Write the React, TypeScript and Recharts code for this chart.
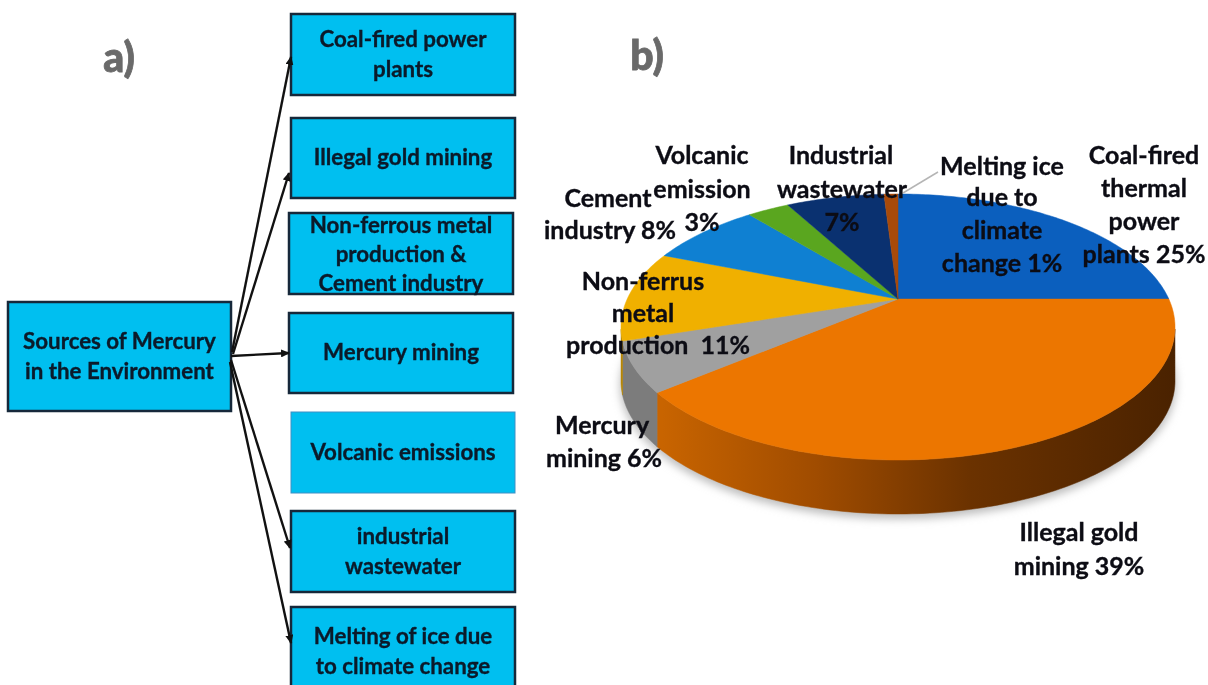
import { PieChart, Pie } from 'recharts'

const sliceNames = [
  'Coal-fired thermal power plants',
  'Illegal gold mining',
  'Mercury mining',
  'Non-ferrus metal production',
  'Cement industry',
  'Volcanic emission',
  'Industrial wastewater',
  'Melting ice due to climate change',
]
const sliceValues = [25, 39, 6, 11, 8, 3, 7, 1]
const sliceColors = ['#0b5fbe', '#ec7600', '#a0a0a0', '#f0b000', '#0f80d2', '#5aa61f', '#0a3170', '#a84a0a']
const wallColors = ['#07356b', 'url(#goldWall)', '#7c7c7c', '#b58400', '#0a5a96', '#3f7a14', '#061d44', '#6d3005']

const pieData = sliceNames.map((name, i) => ({
  name,
  value: sliceValues[i],
  fill: sliceColors[i],
  wall: wallColors[i],
}))

const boxes = [
  { lines: ['Coal-fired power', 'plants'], x: 291, y: 14, w: 224, h: 81 },
  { lines: ['Illegal gold mining'], x: 291, y: 118, w: 224, h: 80 },
  { lines: ['Non-ferrous metal', 'production &', 'Cement industry'], x: 289, y: 213, w: 224, h: 81, tight: true },
  { lines: ['Mercury mining'], x: 289, y: 313, w: 224, h: 80 },
  { lines: ['Volcanic emissions'], x: 291, y: 412, w: 224, h: 81, light: true },
  { lines: ['industrial', 'wastewater'], x: 291, y: 511, w: 224, h: 81 },
  { lines: ['Melting of ice due', 'to climate change'], x: 291, y: 607, w: 224, h: 90 },
  { lines: ['Sources of Mercury', 'in the Environment'], x: 8, y: 302, w: 223, h: 109 },
]

const arrows = [
  [232, 352, 291, 57],
  [233, 354, 289, 173],
  [231, 356, 289, 353],
  [231, 360, 290, 548],
  [230, 362, 291, 643],
]

// [text, centre x, baseline y]
const pieLabels: [string, number, number][] = [
  ['Coal-fired', 1144, 164],
  ['thermal', 1144, 197],
  ['power', 1144, 230],
  ['plants 25%', 1144, 263],
  ['Melting ice', 1002, 175],
  ['due to', 1002, 206],
  ['climate', 1002, 239],
  ['change 1%', 1002, 272],
  ['Industrial', 841, 164],
  ['wastewater', 842, 198],
  ['7%', 842, 231],
  ['Volcanic', 702, 164],
  ['emission', 702, 198],
  ['3%', 702, 231],
  ['Cement', 608, 207],
  ['industry 8%', 610, 239],
  ['Non-ferrus', 643, 290],
  ['metal', 643, 322],
  ['production  11%', 658, 354],
  ['Mercury', 602, 434],
  ['mining 6%', 604, 467],
  ['Illegal gold', 1079, 541],
  ['mining 39%', 1079, 575],
]

const SQUASH = 133 / 277
const TILT = 0.21
const DEPTH = 54
const FONT = 'Lato, "Open Sans", sans-serif'

// tilted disc: angle on the pie to a point on screen, centre shifted towards the back
function project(cx: number, cy: number, r: number, angle: number, radius = 1) {
  const rad = (angle * Math.PI) / 180
  const px = radius * Math.cos(rad)
  const pz = radius * Math.sin(rad)
  const d = 1 + TILT * pz
  return {
    x: cx + (r * px * Math.sqrt(1 - TILT * TILT)) / d,
    y: cy - (r * SQUASH * (pz + TILT)) / d,
  }
}

function arcPoints(props: any) {
  const { cx, cy, outerRadius, startAngle, endAngle } = props
  const pts = []
  const steps = Math.max(2, Math.ceil(Math.abs(startAngle - endAngle)))
  for (let i = 0; i <= steps; i++) {
    const a = startAngle + ((endAngle - startAngle) * i) / steps
    pts.push(project(cx, cy, outerRadius, a))
  }
  return pts
}

function TopSlice(props: any) {
  const { cx, cy, outerRadius, fill } = props
  const apex = project(cx, cy, outerRadius, 0, 0)
  const d =
    `M${apex.x},${apex.y} ` + arcPoints(props).map((p) => `L${p.x},${p.y}`).join(' ') + ' Z'
  return <path d={d} fill={fill} stroke={fill} strokeWidth={0.5} />
}

function WallSlice(props: any) {
  const { cy, wall } = props
  const front = arcPoints(props).filter((p) => p.y >= cy)
  if (front.length < 2) return <g />
  const d =
    front.map((p, i) => `${i ? 'L' : 'M'}${p.x},${p.y}`).join(' ') +
    ' ' +
    [...front].reverse().map((p) => `L${p.x},${p.y + DEPTH}`).join(' ') +
    ' Z'
  return <path d={d} fill={wall} stroke={wall} strokeWidth={0.5} />
}

export default function App() {
  return (
    <div style={{ position: 'absolute', left: 0, top: 0, width: 1208, height: 685, overflow: 'hidden', background: '#fff', filter: 'blur(0.6px)' }}>
      <svg width={1208} height={685} style={{ position: 'absolute', left: 0, top: 0 }}>
        <defs>
          <linearGradient id="goldWall" gradientUnits="userSpaceOnUse" x1={662} y1={0} x2={1175} y2={0}>
            <stop offset="0" stopColor="#c86400" />
            <stop offset="0.3" stopColor="#a04c00" />
            <stop offset="0.6" stopColor="#6b3200" />
            <stop offset="1" stopColor="#4a2200" />
          </linearGradient>
          <filter id="soft" x="-10%" y="-10%" width="120%" height="120%">
            <feGaussianBlur stdDeviation="4" />
          </filter>
        </defs>
        <ellipse cx={898} cy={385} rx={278} ry={134} fill="#bdbdbd" filter="url(#soft)" />
      </svg>

      <div style={{ position: 'absolute', left: 0, top: 0 }}>
        <PieChart width={1208} height={685} margin={{ top: 0, right: 0, bottom: 0, left: 0 }}>
          <Pie
            data={pieData}
            dataKey="value"
            nameKey="name"
            cx={898}
            cy={327}
            outerRadius={277}
            startAngle={90}
            endAngle={-270}
            shape={WallSlice}
            isAnimationActive={false}
          />
          <Pie
            data={pieData}
            dataKey="value"
            nameKey="name"
            cx={898}
            cy={327}
            outerRadius={277}
            startAngle={90}
            endAngle={-270}
            shape={TopSlice}
            isAnimationActive={false}
          />
        </PieChart>
      </div>

      <svg width={1208} height={685} style={{ position: 'absolute', left: 0, top: 0, fontFamily: FONT, fontWeight: 700 }}>
        <defs>
          <marker id="head" markerWidth="9" markerHeight="8" refX="8" refY="4" orient="auto" markerUnits="userSpaceOnUse">
            <path d="M0,0 L9,4 L0,8 Z" fill="#111" />
          </marker>
        </defs>

        {boxes.map((b) => {
          const lh = b.tight ? 29 : 30
          const first = b.y + b.h / 2 - ((b.lines.length - 1) * lh) / 2 + (b.tight ? 8 : 7)
          return (
            <g key={b.lines[0]}>
              <rect
                x={b.x}
                y={b.y}
                width={b.w}
                height={b.h}
                fill="#00bff0"
                stroke={b.light ? '#3f8fc4' : '#16283a'}
                strokeWidth={b.light ? 1 : 2.5}
              />
              {b.lines.map((t, i) => (
                <text key={t} x={b.x + b.w / 2} y={first + i * lh} textAnchor="middle" fontSize={22.3} fill="#0b1a2a" stroke="#0b1a2a" strokeWidth={0.35}>
                  {t}
                </text>
              ))}
            </g>
          )
        })}

        {arrows.map(([x1, y1, x2, y2]) => (
          <line key={y2} x1={x1} y1={y1} x2={x2} y2={y2} stroke="#111" strokeWidth={2.4} markerEnd="url(#head)" />
        ))}

        <text x={119} y={72} textAnchor="middle" fontSize={41} fontWeight={900} fill="#6a6a6a" stroke="#6a6a6a" strokeWidth={0.8}>a)</text>
        <text x={647} y={70} textAnchor="middle" fontSize={41} fontWeight={900} fill="#6a6a6a" stroke="#6a6a6a" strokeWidth={0.8}>b)</text>

        <line x1={938} y1={172} x2={903} y2={193} stroke="#b5b5b5" strokeWidth={1.5} />

        {pieLabels.map(([t, x, y]) => (
          <text key={t} x={x} y={y} textAnchor="middle" fontSize={25} fill="#0c0c14" stroke="#0c0c14" strokeWidth={0.35} style={{ whiteSpace: 'pre' }}>
            {t}
          </text>
        ))}
      </svg>
    </div>
  )
}
